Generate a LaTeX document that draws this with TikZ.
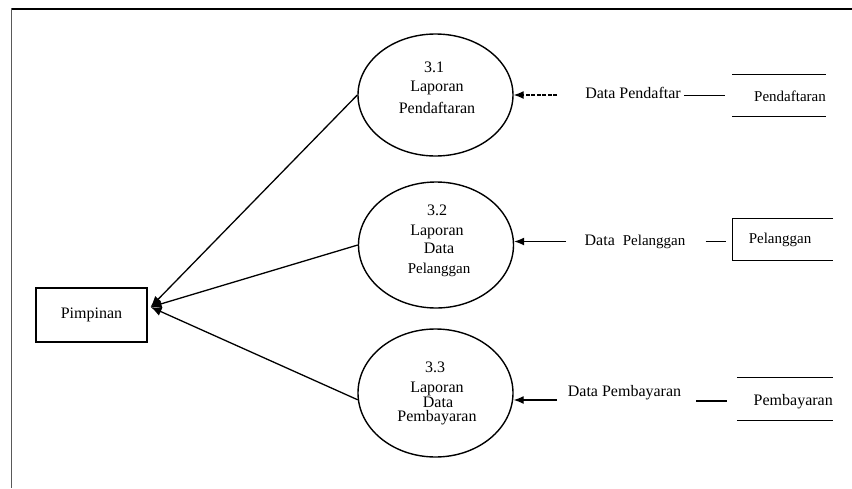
\documentclass[tikz,border=0pt]{standalone}
\usepackage{fontspec}
\setmainfont{Liberation Serif}
\usetikzlibrary{shapes.geometric,arrows.meta}
\begin{document}
\begin{tikzpicture}[x=1pt,y=-1pt,
  txt/.style={font=\fontsize{16}{19}\selectfont, inner sep=0pt, anchor=base},
  small/.style={font=\fontsize{15}{18}\selectfont, inner sep=0pt, anchor=base},
  proc/.style={ellipse, draw, line width=1.4pt, inner sep=0pt,
    minimum width=155pt},
  store/.style={inner sep=0pt, minimum height=41pt},
  outline/.style={line width=1.3pt},
  flow/.style={line width=1.3pt, -{Latex[length=10pt,width=8pt]}},
  report/.style={line width=1.3pt, -{Latex[length=11pt,width=9pt]}}]
\useasboundingbox (0,0) rectangle (852,488);

% page frame
\draw[line width=2pt] (11,8.5) -- (852,8.5);
\draw[line width=1.5pt, black!65] (11.5,8) -- (11.5,488);

% external entity
\node[draw, line width=1.2pt, minimum width=111pt, minimum height=54pt,
  inner sep=0pt, font=\fontsize{16}{19}\selectfont] (pim) at (91.5,315) {Pimpinan};
\coordinate (hub) at ([xshift=3pt,yshift=8pt]pim.east);

% processes
\node[proc, minimum height=122pt] (e31) at (435.5,95) {};
\node[proc, minimum height=126pt] (e32) at (436,245) {};
\node[proc, minimum height=128pt] (e33) at (435.5,393) {};

\node[txt] (t31a) at (434,72) {3.1};
\node[txt] (t31b) at (437,91) {Laporan};
\node[txt] (t31c) at (437,113) {Pendaftaran};

\node[txt] (t32a) at (437,215) {3.2};
\node[txt] (t32b) at (437,235) {Laporan};
\node[txt] (t32c) at (439,253) {Data};
\node[small] (t32d) at (439,273) {Pelanggan};

\node[txt] (t33a) at (435,372) {3.3};
\node[txt] (t33b) at (437,392) {Laporan};
\node[txt] (t33c) at (438,407) {Data};
\node[txt] (t33d) at (437,421) {Pembayaran};

% data stores
\node[store, minimum width=93pt] (st1) at (779,95.5) {};
\draw[outline] (st1.north west) -- (st1.north east);
\draw[outline] (st1.south west) -- (st1.south east);
\node[small, anchor=base east] (n1) at (826,101) {Pendaftaran};

\node[store, minimum width=100pt] (st2) at (783,239.5) {};
\draw[outline] (st2.north east) -- (st2.north west) -- (st2.south west) -- (st2.south east);
\node[small] (n2) at (780,243.5) {Pelanggan};

\node[store, minimum width=96pt, minimum height=42pt] (st3) at (785,399) {};
\draw[outline] (st3.north west) -- (st3.north east);
\draw[outline] (st3.south west) -- (st3.south east);
\node[txt, anchor=base east] (n3) at (833,405) {Pembayaran};

% data flow labels
\node[txt] (l1) at (633,98) {Data Pendaftar};
\node[txt] (l2) at (635,245) {Data\ \ {\fontsize{15}{18}\selectfont Pelanggan}};
\node[txt] (l3) at (624.5,396) {Data Pembayaran};

% label to store
\draw[line width=1.6pt, shorten <=3pt, shorten >=7pt] (st1.west -| l1.east) -- (st1.west);
\draw[line width=1.4pt, shorten <=20pt, shorten >=7pt] ([yshift=-2pt]st2.west -| l2.east) -- ([yshift=-2pt]st2.west);
\draw[line width=1.4pt, shorten <=15pt, shorten >=10pt] ([yshift=-2pt]st3.west -| l3.east) -- ([yshift=-2pt]st3.west);

% flows into processes
\coordinate (a1) at (557,95);
\coordinate (a2) at (566,241.5);
\coordinate (a3) at (557,400);
\draw[flow, dash pattern=on 4pt off 1.5pt] (a1) -- (e31.east);
\draw[flow] (a2) -- (a2 -| e32.east);
\draw[flow] (a3) -- (a3 -| e33.east);

% reports to Pimpinan
\draw[report] (e31.west) -- (hub);
\draw[report] (e32.west) -- (hub);
\draw[report] (e33.185) -- (hub);
\end{tikzpicture}
\end{document}
